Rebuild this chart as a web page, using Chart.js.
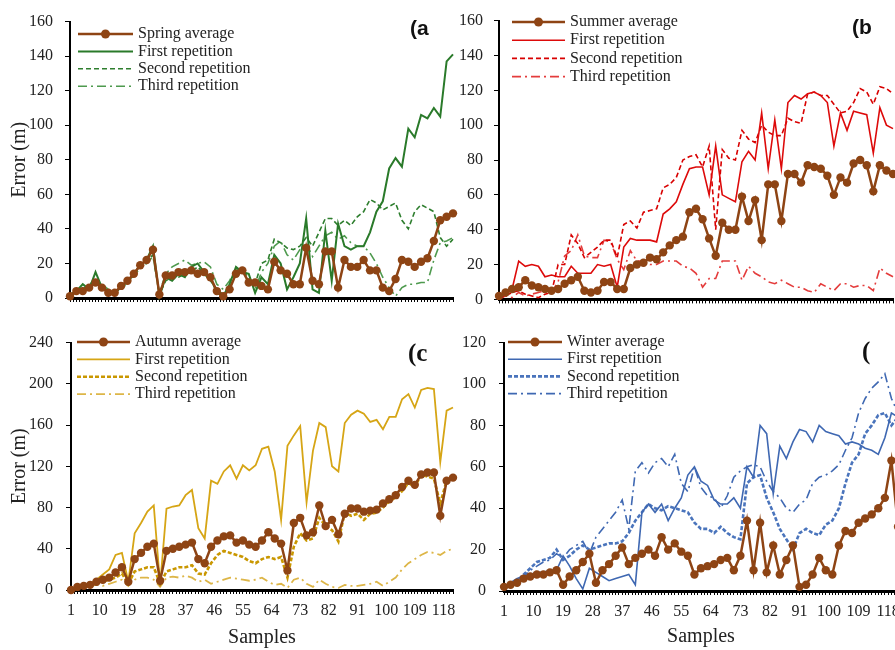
<!DOCTYPE html>
<html>
<head>
<meta charset="utf-8">
<script src="https://cdn.jsdelivr.net/npm/chart.js@4.4.0/dist/chart.umd.min.js"></script>
<style>
    html, body { margin: 0; padding: 0; background: #fff; width: 895px; height: 650px; overflow: hidden; }
    .panel { position: absolute; }
</style>
</head>
<body>
<div class="panel" style="left:0;top:0"><canvas id="chartA" width="460" height="320"></canvas></div>
<div class="panel" style="left:455px;top:0"><canvas id="chartB" width="455" height="320"></canvas></div>
<div class="panel" style="left:0;top:320px"><canvas id="chartC" width="460" height="330"></canvas></div>
<div class="panel" style="left:455px;top:320px"><canvas id="chartD" width="455" height="330"></canvas></div>
<script>
// Sample numbers (every second sample is plotted)
const samples = [1,3,5,7,9,11,13,15,17,19,21,23,25,27,29,31,33,35,37,39,41,43,45,47,49,51,53,55,57,59,
    61,63,65,67,69,71,73,75,77,79,81,83,85,87,89,91,93,95,97,99,101,103,105,107,109,111,113,115,117,119,121];
const xTickLabels = [1,10,19,28,37,46,55,64,73,82,91,100,109,118];
const seriesNames = ['First repetition', 'Second repetition', 'Third repetition'];

// (a) Spring
const springAvg  = [1,4,4,6,9,6,3,3,7,10, 14,19,22,28,2,13,13,15,15,16, 14,15,12,4,1,5,14,16,9,9,
    7,5,21,16,14,8,8,29,10,8, 27,27,6,22,18,18,22,16,16,6, 4,11,22,21,18,21,23,33,45,47, 49];
const springRep1 = [2,4,8,5,15,6,4,2,7,9, 14,19,22,30,1,12,10,14,12,18, 20,15,12,3,1,8,18,15,14,3,
    12,8,25,20,5,12,20,46,5,3, 39,10,43,30,28,30,30,38,50,56, 75,81,76,98,93,106,104,110,105,137, 141];
const springRep2 = [1,3,5,8,10,7,4,3,6,10, 14,18,21,25,2,10,12,12,14,15, 18,14,10,5,2,6,14,17,10,8,
    20,22,34,32,29,28,30,35,30,38, 46,46,42,45,42,47,50,57,55,51, 53,55,45,40,50,54,52,50,35,30, 34];
const springRep3 = [2,4,6,5,9,8,5,3,6,8, 13,17,20,24,3,14,18,20,22,19, 20,21,18,8,5,10,17,16,12,5,
    15,20,30,33,25,22,28,32,24,30, 36,38,34,36,32,30,30,26,20,12, 6,1,6,8,8,9,9,22,32,33, 35];

// (b) Summer
const summerAvg  = [2,4,6,7,11,8,7,6,5,6, 9,11,13,5,4,5,10,10,6,6, 18,20,21,24,23,27,31,34,36,50,
    52,46,35,25,44,40,40,59,45,57, 34,66,66,45,72,72,67,77,76,75, 71,60,70,67,78,80,77,62,77,74, 72];
const summerRep1 = [1,3,6,22,19,20,19,13,14,13, 13,19,15,15,15,20,19,20,7,30, 35,34,34,34,33,49,52,56,66,75,
    76,76,60,88,60,58,56,79,85,80, 107,75,103,75,113,117,115,118,119,117, 113,88,107,97,108,107,106,84,110,100, 98];
const summerRep2 = [1,2,4,5,3,2,1,3,4,20, 20,37,32,24,27,30,34,34,24,43, 45,41,50,51,52,64,66,70,80,82,
    83,76,88,40,86,81,80,97,92,90, 100,96,94,94,104,102,101,118,119,117, 117,112,107,108,113,121,119,112,122,121, 118];
const summerRep3 = [0,2,1,4,2,3,4,5,4,10, 25,28,37,25,24,24,34,33,23,17, 28,22,22,20,20,22,22,22,19,18,
    15,7,12,12,22,22,22,11,19,15, 13,10,9,11,9,7,7,5,4,9, 7,5,9,9,7,8,8,5,18,15, 13];

// (c) Autumn
const autumnAvg  = [0,3,4,5,8,10,12,17,22,8, 30,36,42,45,9,38,40,42,44,46, 30,26,42,48,52,53,46,48,44,42,
    48,56,50,45,19,65,70,53,56,82, 62,68,54,74,79,79,76,77,78,84, 88,92,100,106,102,112,114,114,72,106, 109];
const autumnRep1 = [0,2,4,6,10,15,20,34,36,8, 55,65,76,82,5,79,81,82,92,97, 60,50,106,103,115,121,108,121,116,121,
    137,139,115,68,140,150,159,85,135,162, 158,120,115,162,170,174,171,163,165,156, 168,168,185,190,177,194,196,195,124,174, 177];
const autumnRep2 = [0,2,4,6,8,8,10,12,16,6, 18,20,22,22,6,18,20,22,22,24, 16,15,26,34,38,36,34,32,28,26,
    30,32,30,32,12,42,55,48,50,70, 62,58,47,75,72,74,68,74,75,80, 86,90,96,104,100,112,110,108,84,106, 108];
const autumnRep3 = [0,1,3,4,5,4,6,8,10,4, 10,12,12,10,3,12,13,12,14,12, 8,10,6,8,10,12,11,10,9,10,
    12,8,5,6,2,10,12,6,3,10, 6,3,2,5,4,4,5,6,8,4, 8,12,20,26,30,34,37,36,34,38, 40];

// (d) Winter
const winterAvg  = [2,3,4,6,7,8,8,9,10,3, 7,10,14,18,4,10,13,17,21,13, 16,18,20,17,26,20,23,19,17,8,
    11,12,13,15,16,10,17,34,10,33, 9,22,8,15,22,2,3,8,16,10, 8,22,29,28,33,35,37,40,45,63, 31];
const winterRep1 = [2,4,6,7,8,9,9,10,10,17, 12,6,1,11,9,7,5,6,7,8, 3,38,42,38,42,34,40,45,56,60,
    53,51,44,42,42,45,40,60,55,80, 76,47,70,64,72,78,77,72,80,77, 76,75,71,72,71,69,68,66,74,86, 84];
const winterRep2 = [1,3,5,8,11,14,15,16,20,15, 17,20,22,20,21,22,23,23,24,28, 34,38,42,40,39,41,40,39,38,33,
    30,30,28,31,28,26,25,52,55,56, 45,38,30,25,20,28,30,28,27,32, 34,40,52,62,66,76,80,85,86,80, 84];
const winterRep3 = [2,4,5,7,10,12,14,15,18,16, 20,22,24,18,26,30,34,38,44,30, 58,62,57,62,64,60,66,52,48,60,
    50,46,45,40,46,55,58,60,61,60, 53,48,45,40,38,42,44,52,55,56, 58,61,68,74,86,93,98,101,105,93, 86];

const SERIF = '"Liberation Serif", "DejaVu Serif", serif';
const AVG_COLOR = '#8E4414';

function toPoints(values) {
    return samples.map((s, i) => ({ x: s, y: values[i] }));
}

// legend + panel letter drawn inside the plot
const panelDecor = {
    id: 'panelDecor',
    afterDraw(chart, args, opts) {
        const ctx = chart.ctx;
        ctx.save();
        chart.data.datasets.forEach((ds, i) => {
            const y = opts.y + i * opts.gap;
            ctx.strokeStyle = ds.borderColor;
            ctx.lineWidth = ds.borderWidth;
            ctx.setLineDash(ds.borderDash || []);
            ctx.beginPath();
            ctx.moveTo(opts.x, y);
            ctx.lineTo(opts.x + opts.len, y);
            ctx.stroke();
            if (ds.pointRadius > 0) {
                ctx.setLineDash([]);
                ctx.fillStyle = ds.pointBackgroundColor;
                ctx.beginPath();
                ctx.arc(opts.x + opts.len / 2, y, 4.5, 0, Math.PI * 2);
                ctx.fill();
            }
            ctx.fillStyle = '#222';
            ctx.font = '16px ' + SERIF;
            ctx.textBaseline = 'middle';
            ctx.fillText(ds.label, opts.x + opts.len + 5, y);
        });
        ctx.fillStyle = '#111';
        ctx.font = opts.tagFont;
        ctx.textBaseline = 'middle';
        ctx.fillText(opts.tag, opts.tagX, opts.tagY);
        ctx.restore();
    }
};

function makePanel(id, p) {
    const datasets = [
        { label: p.avgName, data: toPoints(p.avg), borderColor: AVG_COLOR, borderWidth: 2.5,
          pointRadius: 4.2, pointBorderWidth: 0, pointBackgroundColor: AVG_COLOR },
        { label: seriesNames[0], data: toPoints(p.rep1), borderColor: p.colors[0], borderWidth: p.widths[0], pointRadius: 0 },
        { label: seriesNames[1], data: toPoints(p.rep2), borderColor: p.colors[1], borderWidth: p.widths[1],
          borderDash: p.dash2, pointRadius: 0 },
        { label: seriesNames[2], data: toPoints(p.rep3), borderColor: p.colors[2], borderWidth: p.widths[2],
          borderDash: [9, 4, 2, 4], pointRadius: 0 }
    ];
    datasets.forEach(ds => { ds.tension = 0; ds.clip = 5; ds.fill = false; });

    return new Chart(document.getElementById(id), {
        type: 'line',
        data: { datasets },
        options: {
            responsive: false,
            animation: false,
            layout: { padding: p.padding },
            plugins: {
                legend: { display: false },
                tooltip: { enabled: false },
                panelDecor: p.decor
            },
            scales: {
                x: {
                    type: 'linear', min: 1, max: 121,
                    afterFit: s => { s.height = p.xHeight; },
                    ticks: {
                        stepSize: 1, autoSkip: false, maxRotation: 0, display: p.showX,
                        font: { family: SERIF, size: 16 }, color: '#222', padding: 7,
                        callback: v => xTickLabels.includes(v) ? String(v) : ''
                    },
                    grid: { display: true, drawOnChartArea: false, drawTicks: true, tickLength: 4, color: '#000' },
                    border: { display: true, color: '#000', width: 3 },
                    title: { display: p.showX, text: 'Samples', font: { family: SERIF, size: 20 }, color: '#222',
                             padding: { top: 0, bottom: p.xTitlePad } }
                },
                y: {
                    min: 0, max: p.yMax,
                    afterFit: s => { s.width = p.yWidth; },
                    ticks: { stepSize: p.yStep, font: { family: SERIF, size: 16 }, color: '#222', padding: p.yPad },
                    grid: { display: true, drawOnChartArea: false, drawTicks: true, tickLength: 5, color: '#000' },
                    border: { display: true, color: '#000', width: 2 },
                    title: { display: p.showY, text: 'Error (m)', font: { family: SERIF, size: 20 }, color: '#222',
                             padding: { top: 8, bottom: 0 } }
                }
            }
        },
        plugins: [panelDecor]
    });
}

makePanel('chartA', {
    avgName: 'Spring average', avg: springAvg, rep1: springRep1, rep2: springRep2, rep3: springRep3,
    colors: ['#2A7A2A', '#2E7E2E', '#4E9A4E'], widths: [2, 1.6, 1.6], dash2: [5, 3],
    padding: { left: 0, top: 20, right: 7, bottom: 0 }, xHeight: 22, yWidth: 70, yPad: 12,
    yMax: 160, yStep: 20, showX: false, showY: true, xTitlePad: 0,
    decor: { x: 78, y: 34, gap: 17.4, len: 55, tag: '(a', tagX: 410, tagY: 29, tagFont: 'bold 21px "Liberation Sans", sans-serif' }
});

makePanel('chartB', {
    avgName: 'Summer average', avg: summerAvg, rep1: summerRep1, rep2: summerRep2, rep3: summerRep3,
    colors: ['#DD0A0A', '#D80000', '#E43C3C'], widths: [1.6, 1.6, 1.6], dash2: [5, 3],
    padding: { left: 0, top: 15, right: 17, bottom: 0 }, xHeight: 20, yWidth: 44, yPad: 11,
    yMax: 160, yStep: 20, showX: false, showY: false, xTitlePad: 0,
    decor: { x: 57, y: 22, gap: 18.2, len: 53, tag: '(b', tagX: 397, tagY: 28, tagFont: 'bold 21px "Liberation Sans", sans-serif' }
});

makePanel('chartC', {
    avgName: 'Autumn average', avg: autumnAvg, rep1: autumnRep1, rep2: autumnRep2, rep3: autumnRep3,
    colors: ['#D6A515', '#C99700', '#DDB648'], widths: [1.8, 2.6, 1.8], dash2: [4, 2],
    padding: { left: 0, top: 13, right: 7, bottom: 0 }, xHeight: 60, yWidth: 71, yPad: 13,
    yMax: 240, yStep: 40, showX: true, showY: true, xTitlePad: 0,
    decor: { x: 77, y: 22, gap: 17.4, len: 53, tag: '(c', tagX: 408, tagY: 35, tagFont: 'bold 25px ' + SERIF }
});

makePanel('chartD', {
    avgName: 'Winter average', avg: winterAvg, rep1: winterRep1, rep2: winterRep2, rep3: winterRep3,
    colors: ['#3F68B2', '#4A74BC', '#3F68B2'], widths: [1.6, 2.6, 1.6], dash2: [4, 2],
    padding: { left: 0, top: 9, right: 12, bottom: 0 }, xHeight: 59, yWidth: 49, yPad: 13,
    yMax: 120, yStep: 20, showX: true, showY: false, xTitlePad: 1,
    decor: { x: 53, y: 22, gap: 17.2, len: 54, tag: '(', tagX: 407, tagY: 33, tagFont: 'bold 25px ' + SERIF }
});
</script>
</body>
</html>
